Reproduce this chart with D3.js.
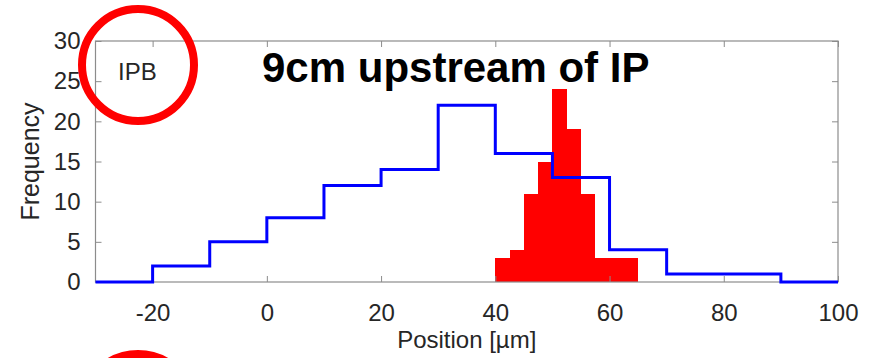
<!DOCTYPE html>
<html>
<head>
<meta charset="utf-8">
<script src="https://cdn.jsdelivr.net/npm/d3@7"></script>
<style>
  body { margin: 0; background: #fff; }
  svg text { font-family: "Liberation Sans", Arial, Helvetica, sans-serif; }
</style>
</head>
<body>
<div id="chart"></div>
<script>
// DATA
// wide histogram (blue step outline), 10 um bins
var blueEdges  = [-30, -20, -10, 0, 10, 20, 30, 40, 50, 60, 70, 80, 90, 100];
var blueCounts = [0, 2, 5, 8, 12, 14, 22, 16, 13, 4, 1, 1, 0];
// narrow histogram (red bars), 2.5 um bins
var redEdges  = [40, 42.5, 45, 47.5, 50, 52.5, 55, 57.5, 60, 62.5, 65];
var redCounts = [3, 4, 11, 15, 24, 19, 11, 3, 3, 3];

var xTicks = [-20, 0, 20, 40, 60, 80, 100];
var yTicks = [0, 5, 10, 15, 20, 25, 30];

var titleText = '9cm upstream of IP';
var cornerText = 'IPB';
var xLabel = 'Position [\u00b5m]';
var yLabel = 'Frequency';

var pageWidth = 881, pageHeight = 358;
var margin = { left: 95.5, top: 41, right: 43, bottom: 76 };
var plotW = pageWidth - margin.left - margin.right;
var plotH = pageHeight - margin.top - margin.bottom;
var axisColor = '#8c8c8c';
var textColor = '#262626';

var svg = d3.select('#chart')
	.append('svg')
	.attr('width', pageWidth)
	.attr('height', pageHeight);

var g = svg.append('g')
	.attr('transform', `translate(${margin.left}, ${margin.top})`);

var xScale = d3.scaleLinear()
	.domain([-30, 100])
	.range([0, plotW]);

var yScale = d3.scaleLinear()
	.domain([0, 30])
	.range([plotH, 0]);

// red bars
g.selectAll('.bar')
	.data(redCounts)
	.enter().append('rect')
		.attr('class', 'bar')
		.attr('x', function(d, i) { return xScale(redEdges[i]) })
		.attr('width', function(d, i) { return xScale(redEdges[i + 1]) - xScale(redEdges[i]) })
		.attr('y', function(d) { return yScale(d) })
		.attr('height', function(d) { return yScale(0) - yScale(d) })
		.attr('fill', '#ff0000')
		.attr('shape-rendering', 'crispEdges');

// axes (ticks pointing inward, box all round)
function styleAxis(sel) {
	sel.selectAll('.domain').remove();
	sel.selectAll('.tick line').attr('stroke', axisColor);
	sel.selectAll('.tick text')
		.attr('fill', textColor)
		.style('font-size', '24px');
}

// plain hyphen for negatives, like the original
var plainFormat = function(d) { return String(d) };

g.append('g')
	.attr('transform', `translate(0, ${plotH})`)
	.call(d3.axisBottom(xScale).tickValues(xTicks).tickFormat(plainFormat).tickSizeInner(-6).tickSizeOuter(0).tickPadding(22))
	.call(styleAxis);

g.append('g')
	.call(d3.axisLeft(yScale).tickValues(yTicks).tickFormat(plainFormat).tickSizeInner(-6).tickSizeOuter(0).tickPadding(15))
	.call(styleAxis);

g.append('g')
	.call(d3.axisTop(xScale).tickValues(xTicks).tickSizeInner(-6).tickSizeOuter(0).tickFormat(''))
	.call(styleAxis);

g.append('g')
	.attr('transform', `translate(${plotW}, 0)`)
	.call(d3.axisRight(yScale).tickValues(yTicks).tickSizeInner(-6).tickSizeOuter(0).tickFormat(''))
	.call(styleAxis);

g.append('rect')
	.attr('width', plotW)
	.attr('height', plotH)
	.attr('fill', 'none')
	.attr('stroke', axisColor)
	.attr('stroke-width', 1.2);

// blue step outline
var bluePoints = blueCounts.map(function(c, i) { return [blueEdges[i], c] });
bluePoints.push([blueEdges[blueEdges.length - 1], blueCounts[blueCounts.length - 1]]);

var stepLine = d3.line()
	.x(function(d) { return xScale(d[0]) })
	.y(function(d) { return yScale(d[1]) })
	.curve(d3.curveStepAfter);

g.append('path')
	.datum(bluePoints)
	.attr('d', stepLine)
	.attr('fill', 'none')
	.attr('stroke', '#0000ff')
	.attr('stroke-width', 3);

// labels
g.append('text')
	.attr('x', plotW / 2)
	.attr('y', plotH + 66)
	.attr('text-anchor', 'middle')
	.attr('fill', textColor)
	.style('font-size', '24px')
	.text(xLabel);

svg.append('text')
	.attr('transform', `translate(39, ${margin.top + plotH / 2}) rotate(-90)`)
	.attr('text-anchor', 'middle')
	.attr('fill', textColor)
	.style('font-size', '25px')
	.text(yLabel);

svg.append('text')
	.attr('x', 118)
	.attr('y', 80)
	.attr('fill', textColor)
	.style('font-size', '24px')
	.text(cornerText);

svg.append('text')
	.attr('x', 262)
	.attr('y', 82)
	.attr('fill', '#000')
	.style('font-size', '42px')
	.style('font-weight', 'bold')
	.text(titleText);

// red annotation circles
svg.append('circle')
	.attr('cx', 138)
	.attr('cy', 65)
	.attr('r', 56)
	.attr('fill', 'none')
	.attr('stroke', '#ff0000')
	.attr('stroke-width', 8);

svg.append('circle')
	.attr('cx', 138)
	.attr('cy', 410)
	.attr('r', 56)
	.attr('fill', 'none')
	.attr('stroke', '#ff0000')
	.attr('stroke-width', 8);
</script>
</body>
</html>
